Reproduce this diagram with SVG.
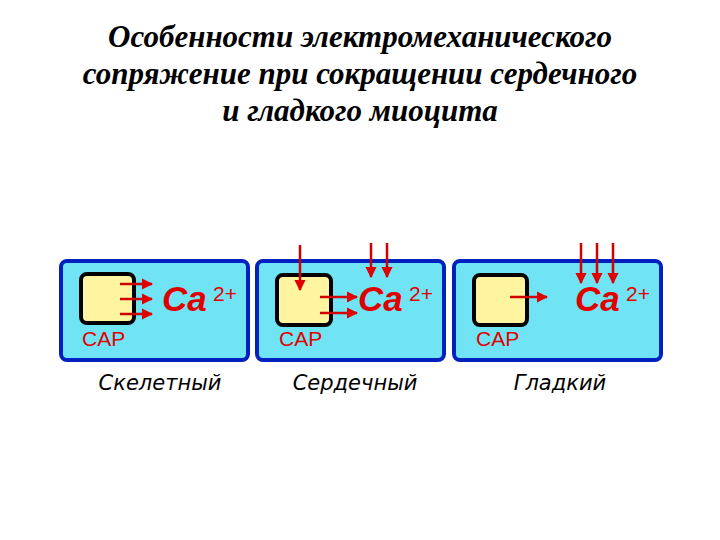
<svg xmlns="http://www.w3.org/2000/svg" width="720" height="540" viewBox="0 0 720 540">
<defs>
<marker id="ah" viewBox="0 0 10 10" refX="9" refY="5" markerWidth="4.5" markerHeight="4.5" orient="auto" markerUnits="strokeWidth"><path d="M0,0 L10,5 L0,10 z" fill="#e00000"/></marker>
<style>
.cell{fill:#70e4f4;stroke:#0020c0;stroke-width:4}
.sr{fill:#fff5a0;stroke:#000;stroke-width:4}
.ar{stroke:#d00000;stroke-width:2.5;fill:none;marker-end:url(#ah)}
.ca{font-family:"Liberation Sans",Arial,sans-serif;font-weight:bold;font-style:italic;fill:#e00000;font-size:35px}
.sup{font-family:"Liberation Sans",Arial,sans-serif;fill:#e00000;font-size:21px}
.cap{font-family:"Liberation Sans",Arial,sans-serif;fill:#e00000;font-size:21px}
.lab{font-family:"DejaVu Sans",sans-serif;font-style:italic;fill:#000;font-size:21px;text-anchor:middle}
.t{font-family:"Liberation Serif",serif;font-weight:bold;font-style:italic;font-size:31px;text-anchor:middle;fill:#000}
</style>
</defs>
<rect width="720" height="540" fill="#fff"/>
<text class="t" x="360" y="47">Особенности электромеханического</text>
<text class="t" x="360" y="84">сопряжение при сокращении сердечного</text>
<text class="t" x="360" y="121">и гладкого миоцита</text>
<g id="skeletal">
<rect class="cell" x="61" y="261" width="187" height="99" rx="6"/>
<rect class="sr" x="81" y="274" width="53" height="49" rx="6"/>
<text class="ca" x="162" y="311">Ca</text><text class="sup" x="213" y="301">2+</text>
<text class="cap" x="82" y="346">CAP</text>
<text class="lab" x="160" y="390">Скелетный</text>
</g>
<g id="cardiac">
<rect class="cell" x="257" y="261" width="187" height="99" rx="6"/>
<rect class="sr" x="277" y="275" width="54" height="50" rx="6"/>
<text class="ca" x="358" y="311">Ca</text><text class="sup" x="409" y="301">2+</text>
<text class="cap" x="279" y="346">CAP</text>
<text class="lab" x="355" y="390">Сердечный</text>
</g>
<g id="smooth">
<rect class="cell" x="454" y="261" width="207" height="99" rx="6"/>
<rect class="sr" x="474" y="275" width="53" height="50" rx="6"/>
<text class="ca" x="575" y="311">Ca</text><text class="sup" x="626" y="301">2+</text>
<text class="cap" x="476" y="346">CAP</text>
<text class="lab" x="560" y="390">Гладкий</text>
</g>
<g id="connectors">
<line class="ar" x1="120" y1="284" x2="152" y2="284"/>
<line class="ar" x1="120" y1="299" x2="152" y2="299"/>
<line class="ar" x1="120" y1="314" x2="152" y2="314"/>
<line class="ar" x1="300" y1="245" x2="300" y2="290"/>
<line class="ar" x1="371" y1="243" x2="371" y2="277"/>
<line class="ar" x1="387" y1="243" x2="387" y2="277"/>
<line class="ar" x1="320" y1="297" x2="357" y2="297"/>
<line class="ar" x1="320" y1="313" x2="357" y2="313"/>
<line class="ar" x1="510" y1="297" x2="547" y2="297"/>
<line class="ar" x1="581" y1="243" x2="581" y2="283"/>
<line class="ar" x1="597" y1="243" x2="597" y2="283"/>
<line class="ar" x1="613" y1="243" x2="613" y2="283"/>
</g>
</svg>
